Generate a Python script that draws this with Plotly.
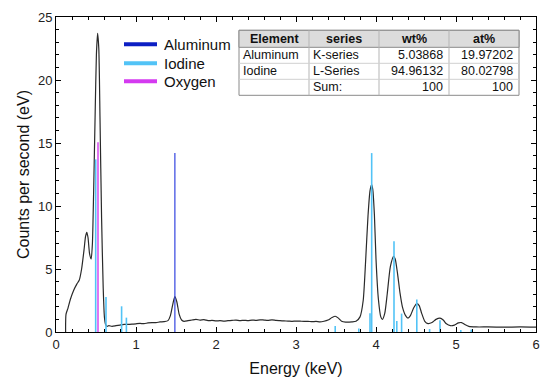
import plotly.graph_objects as go

# ---------------- data ----------------
energy = [0.12, 0.125, 0.15, 0.18, 0.22, 0.26, 0.29, 0.32, 0.35, 0.37, 0.385, 0.40, 0.42, 0.44,
          0.455, 0.47, 0.49, 0.505, 0.52, 0.535, 0.55, 0.57, 0.59, 0.605, 0.62, 0.64, 0.66,
          0.70, 0.75, 0.80, 0.85, 0.90, 0.95, 1.00, 1.05, 1.10, 1.15, 1.20, 1.25, 1.30, 1.35,
          1.40, 1.43, 1.46, 1.485, 1.51, 1.54, 1.57, 1.60, 1.65, 1.70, 1.75, 1.80, 1.85, 1.90,
          1.95, 2.00, 2.05, 2.10, 2.15, 2.20, 2.25, 2.30, 2.35, 2.40, 2.45, 2.50, 2.55, 2.60,
          2.65, 2.70, 2.75, 2.80, 2.85, 2.90, 2.95, 3.00, 3.05, 3.10, 3.15, 3.20, 3.25, 3.30,
          3.35, 3.40, 3.45, 3.49, 3.53, 3.57, 3.62, 3.70, 3.75, 3.80, 3.84, 3.87, 3.90, 3.925,
          3.945, 3.96, 3.98, 4.00, 4.03, 4.06, 4.08, 4.11, 4.14, 4.18, 4.22, 4.24, 4.27, 4.30,
          4.33, 4.37, 4.40, 4.43, 4.47, 4.51, 4.54, 4.57, 4.61, 4.65, 4.70, 4.75, 4.80, 4.84,
          4.88, 4.93, 4.98, 5.03, 5.07, 5.11, 5.16, 5.25, 5.40, 5.60, 5.80, 6.00]
counts = [0.0, 1.4, 1.9, 2.6, 3.3, 3.8, 4.1, 5.0, 6.5, 7.6, 7.9, 7.5, 6.2, 5.8,
          7.0, 11.0, 17.5, 22.0, 23.7, 22.5, 17.0, 9.0, 3.5, 1.2, 0.6, 0.45, 0.5,
          0.45, 0.5, 0.55, 0.6, 0.6, 0.62, 0.65, 0.68, 0.66, 0.72, 0.75, 0.74, 0.8, 0.82,
          0.9, 1.3, 2.2, 2.8, 2.4, 1.4, 0.95, 0.85, 0.9, 0.95, 1.0, 0.95, 0.98, 0.9,
          0.92, 0.88, 0.9, 0.87, 0.9, 0.92, 0.95, 0.9, 0.93, 0.9, 0.95, 0.92, 0.97, 0.95,
          0.93, 0.97, 0.92, 0.9, 0.88, 0.87, 0.85, 0.87, 0.86, 0.84, 0.85, 0.82, 0.84, 0.8,
          0.85, 0.95, 1.15, 1.25, 1.1, 0.85, 0.78, 0.8, 0.85, 1.2, 2.5, 5.6, 9.2, 11.2,
          11.7, 11.3, 9.3, 5.8, 2.6, 1.2, 1.0, 1.5, 3.0, 5.2, 6.0, 5.8, 4.6, 3.1,
          2.0, 1.3, 1.1, 1.3, 1.9, 2.25, 2.1, 1.5, 0.85, 0.67, 0.75, 1.0, 1.1, 0.95,
          0.65, 0.5, 0.55, 0.72, 0.75, 0.6, 0.45, 0.4, 0.4, 0.38, 0.4, 0.38]

al_energy = [1.486]
al_height = [14.2]
iodine_energy = [0.496, 0.625, 0.82, 0.88, 3.49, 3.785, 3.925, 3.946, 4.225, 4.26, 4.32,
                 4.51, 4.67, 4.80, 5.06, 5.19]
iodine_height = [13.7, 2.78, 2.04, 1.14, 0.48, 0.27, 1.48, 14.2, 7.2, 0.87, 1.46,
                 2.57, 0.24, 0.93, 0.15, 0.2]
oxygen_energy = [0.525]
oxygen_height = [15.05]

legend_names = ["Aluminum", "Iodine", "Oxygen"]
legend_colors = ["#0c1fc4", "#52c3f6", "#d43af0"]

table_header = ["Element", "series", "wt%", "at%"]
table_rows = [["Aluminum", "K-series", "5.03868", "19.97202"],
              ["Iodine", "L-Series", "94.96132", "80.02798"],
              ["", "Sum:", "100", "100"]]

x_ticks = [0, 1, 2, 3, 4, 5, 6]
y_ticks = [0, 5, 10, 15, 20, 25]

FONT = "Liberation Sans, Arial, sans-serif"

# ---------------- figure ----------------
fig = go.Figure()

fig.add_trace(go.Scatter(x=energy, y=counts, mode="lines",
                         line=dict(color="#2a2a2a", width=1.2, shape="spline", smoothing=0.6),
                         showlegend=False, hoverinfo="skip"))


def sticks(es, hs):
    xs, ys = [], []
    for e, h in zip(es, hs):
        xs += [e, e, None]
        ys += [0, h, None]
    return xs, ys


for es, hs, col, w in [(iodine_energy, iodine_height, legend_colors[1], 1.6),
                       (oxygen_energy, oxygen_height, legend_colors[2], 1.4),
                       (al_energy, al_height, "#3444e0", 1.2)]:
    xs, ys = sticks(es, hs)
    fig.add_trace(go.Scatter(x=xs, y=ys, mode="lines", line=dict(color=col, width=w),
                             showlegend=False, hoverinfo="skip"))

# plot area geometry (pixels)
L, R, T, B = 56, 536, 16.7, 331.7
W, H = R - L, B - T


def px(xp):
    return (xp - L) / W


def py(yp):
    return (B - yp) / H


shapes = []
annotations = []

# manual legend
leg_y = [44, 63, 81]
for name, col, yy in zip(legend_names, legend_colors, leg_y):
    shapes.append(dict(type="line", xref="paper", yref="paper",
                       x0=px(124), x1=px(157), y0=py(yy), y1=py(yy),
                       line=dict(color=col, width=4)))
    annotations.append(dict(xref="paper", yref="paper", x=px(162), y=py(yy),
                            text=name, showarrow=False, xanchor="left", yanchor="middle",
                            font=dict(family=FONT, size=15, color="#111111")))

# table
col_x = [239, 309, 379, 449, 519]
row_y = [30, 47, 63, 79, 95]
shapes.append(dict(type="rect", xref="paper", yref="paper",
                   x0=px(col_x[0]), x1=px(col_x[-1]), y0=py(row_y[0]), y1=py(row_y[-1]),
                   fillcolor="white", line=dict(color="#8a8a8a", width=1), layer="above"))
shapes.append(dict(type="rect", xref="paper", yref="paper",
                   x0=px(col_x[0]), x1=px(col_x[-1]), y0=py(row_y[0]), y1=py(row_y[1]),
                   fillcolor="#dcdcdc", line=dict(color="#8a8a8a", width=1), layer="above"))
for cx in col_x[1:-1]:
    shapes.append(dict(type="line", xref="paper", yref="paper", x0=px(cx), x1=px(cx),
                       y0=py(row_y[0]), y1=py(row_y[-1]),
                       line=dict(color="#b5b5b5", width=1), layer="above"))
for ry in row_y[2:-1]:
    shapes.append(dict(type="line", xref="paper", yref="paper", x0=px(col_x[0]),
                       x1=px(col_x[-1]), y0=py(ry), y1=py(ry),
                       line=dict(color="#d0d0d0", width=1), layer="above"))

for i, htxt in enumerate(table_header):
    annotations.append(dict(xref="paper", yref="paper",
                            x=px((col_x[i] + col_x[i + 1]) / 2),
                            y=py((row_y[0] + row_y[1]) / 2), text="<b>%s</b>" % htxt,
                            showarrow=False, xanchor="center", yanchor="middle",
                            font=dict(family=FONT, size=12.5, color="#111111")))
for r, row in enumerate(table_rows):
    ymid = py((row_y[r + 1] + row_y[r + 2]) / 2)
    for c, txt in enumerate(row):
        if not txt:
            continue
        if c < 2:
            xx, anc = px(col_x[c] + 2), "left"
        else:
            xx, anc = px(col_x[c + 1] - 4), "right"
        annotations.append(dict(xref="paper", yref="paper", x=xx, y=ymid, text=txt,
                                showarrow=False, xanchor=anc, yanchor="middle",
                                font=dict(family=FONT, size=12.5, color="#111111")))

axis_common = dict(showline=True, linecolor="black", linewidth=1, mirror="allticks",
                   ticks="inside", ticklen=5, tickwidth=1, tickcolor="black",
                   showgrid=False, zeroline=False, automargin=False,
                   tickfont=dict(family=FONT, size=13, color="#222222"))

fig.update_layout(
    width=550, height=385,
    margin=dict(l=L, r=550 - R, t=T, b=385 - B, pad=0),
    paper_bgcolor="white", plot_bgcolor="white",
    showlegend=False,
    shapes=shapes, annotations=annotations,
    xaxis=dict(range=[0, 6], tickvals=x_ticks,
               minor=dict(ticks="inside", ticklen=3, dtick=0.2, tickcolor="black",
                          showgrid=False),
               title=dict(text="Energy (keV)", font=dict(family=FONT, size=16, color="#111111"),
                          standoff=12),
               **axis_common),
    yaxis=dict(range=[0, 25], tickvals=y_ticks,
               minor=dict(ticks="inside", ticklen=3, dtick=1, tickcolor="black",
                          showgrid=False),
               title=dict(text="Counts per second (eV)",
                          font=dict(family=FONT, size=16, color="#111111"), standoff=4),
               **axis_common),
)

fig.write_html("out.html", config={"displayModeBar": False},
               post_script="document.body.style.margin='0';document.body.style.padding='0';")
